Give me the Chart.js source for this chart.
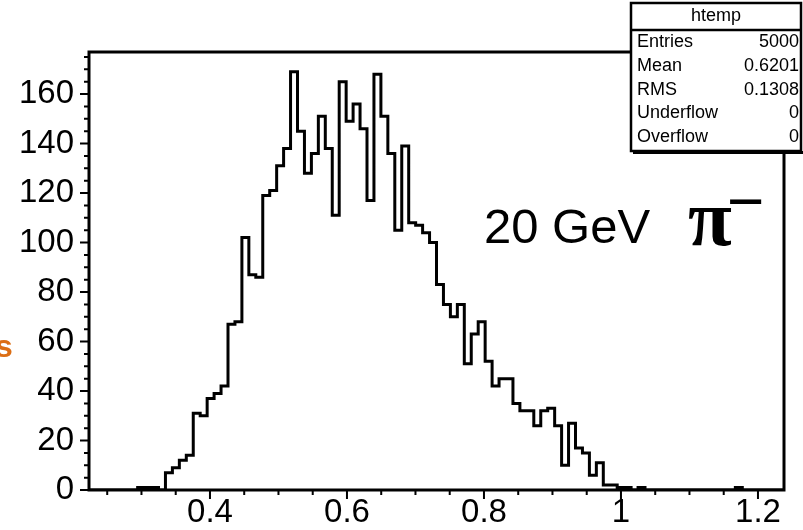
<!DOCTYPE html>
<html>
<head>
<meta charset="utf-8">
<script src="https://cdn.jsdelivr.net/npm/chart.js@4.4.0/dist/chart.umd.min.js"></script>
<style>
body { margin: 0; background: #fff; }
#wrap { width: 803px; height: 530px; }
</style>
</head>
<body>
<div id="wrap"><canvas id="hist" width="803" height="530"></canvas></div>
<script>
// htemp: 100 equal bins between xMin and xMax
const xMin = 0.2234;
const xMax = 1.238;
const yMax = 177;
const counts = [
  0, 0, 0, 0, 0, 0, 0, 1, 1, 1,
  0, 7, 9, 12, 14, 31, 30, 37, 39, 42,
  67, 68, 102, 87, 86, 119, 121, 131, 138, 169,
  145, 128, 136, 151, 138, 111, 165, 149, 156, 146,
  117, 168, 151, 136, 105, 139, 108, 107, 104, 100,
  83, 75, 70, 75, 51, 63, 68, 52, 42, 45,
  45, 35, 32, 32, 26, 32, 33, 26, 10, 27,
  17, 15, 6, 11, 2, 2, 1, 1, 0, 1,
  0, 0, 0, 0, 0, 0, 0, 0, 0, 0,
  0, 0, 0, 1, 0, 0, 0, 0, 0, 0
];
const statTitle = "htemp";
const statLabels = ["Entries", "Mean", "RMS", "Underflow", "Overflow"];
const statValues = ["5000", "0.6201", "0.1308", "0", "0"];

const binWidth = (xMax - xMin) / counts.length;
const points = counts.map((c, i) => ({ x: xMin + i * binWidth, y: c }));
points.push({ x: xMax, y: counts[counts.length - 1] });

// frame, outside ticks, stats box and the labels on the pad
const pad = {
  id: 'pad',
  afterDraw(chart) {
    const ctx = chart.ctx;
    const a = chart.chartArea;
    const xs = chart.scales.x;
    const ys = chart.scales.y;
    ctx.save();
    ctx.strokeStyle = '#000';
    ctx.lineWidth = 3;
    ctx.strokeRect(a.left, a.top, a.right - a.left, a.bottom - a.top);

    ctx.lineWidth = 2;
    ctx.beginPath();
    xs.ticks.forEach(t => {
      const px = xs.getPixelForValue(t.value);
      ctx.moveTo(px, a.bottom);
      ctx.lineTo(px, a.bottom + (t.label !== '' ? 9 : 5));
    });
    ys.ticks.forEach(t => {
      const py = ys.getPixelForValue(t.value);
      ctx.moveTo(a.left, py);
      ctx.lineTo(a.left - (t.label !== '' ? 9 : 5), py);
    });
    ctx.stroke();

    // stats box
    const bx = 631, by = 3, bw = 170, bh = 148;
    ctx.fillStyle = '#fff';
    ctx.fillRect(bx, by, bw, bh);
    ctx.fillStyle = '#000';
    ctx.fillRect(bx + 2, by + bh, bw, 3);
    ctx.lineWidth = 2.5;
    ctx.strokeRect(bx, by, bw, bh);
    ctx.beginPath();
    ctx.moveTo(bx, 30);
    ctx.lineTo(bx + bw, 30);
    ctx.stroke();

    ctx.font = '18px "Liberation Sans", Arial, sans-serif';
    ctx.textBaseline = 'middle';
    ctx.textAlign = 'center';
    ctx.fillText(statTitle, bx + bw / 2, 16);
    statLabels.forEach((lab, i) => {
      const yy = 42 + i * 23.8;
      ctx.textAlign = 'left';
      ctx.fillText(lab, 637, yy);
      ctx.textAlign = 'right';
      ctx.fillText(statValues[i], 799, yy);
    });

    // beam label
    ctx.textBaseline = 'alphabetic';
    ctx.textAlign = 'left';
    ctx.font = '49px "Liberation Sans", Arial, sans-serif';
    ctx.fillText('20 GeV', 484, 243);
    ctx.font = 'bold 80px "Liberation Serif", "Times New Roman", serif';
    ctx.fillText('\u03c0', 688, 245);
    ctx.font = '64px "Liberation Sans", Arial, sans-serif';
    ctx.fillText('\u2212', 727, 223);

    // cut-off axis title
    ctx.fillStyle = 'rgb(220,110,20)';
    ctx.font = 'bold 32px "Liberation Sans", Arial, sans-serif';
    ctx.fillText('s', -5, 357);
    ctx.restore();
  }
};

new Chart(document.getElementById('hist'), {
  type: 'line',
  data: {
    datasets: [{
      data: points,
      stepped: 'before',
      borderColor: '#000',
      borderWidth: 3,
      pointRadius: 0,
      fill: false
    }]
  },
  options: {
    responsive: false,
    animation: false,
    layout: { padding: { top: 52, right: 19, left: 0, bottom: 0 } },
    plugins: { legend: { display: false }, tooltip: { enabled: false } },
    scales: {
      x: {
        type: 'linear',
        min: xMin,
        max: xMax,
        grid: { display: false, drawTicks: false },
        border: { display: false },
        afterFit: (s) => { s.height = 40; },
        ticks: {
          stepSize: 0.05,
          includeBounds: false,
          autoSkip: false,
          maxRotation: 0,
          padding: 3,
          color: '#000',
          font: { family: '"Liberation Sans", Arial, sans-serif', size: 33 },
          callback: (v) => Math.abs(v * 5 - Math.round(v * 5)) < 1e-6 ? String(+v.toFixed(1)) : ''
        }
      },
      y: {
        min: 0,
        max: yMax,
        grid: { display: false, drawTicks: false },
        border: { display: false },
        afterFit: (s) => { s.width = 89; },
        ticks: {
          stepSize: 5,
          includeBounds: false,
          autoSkip: false,
          padding: 15,
          color: '#000',
          font: { family: '"Liberation Sans", Arial, sans-serif', size: 33 },
          callback: (v) => v % 20 === 0 ? String(v) : ''
        }
      }
    }
  },
  plugins: [pad]
});
</script>
</body>
</html>
